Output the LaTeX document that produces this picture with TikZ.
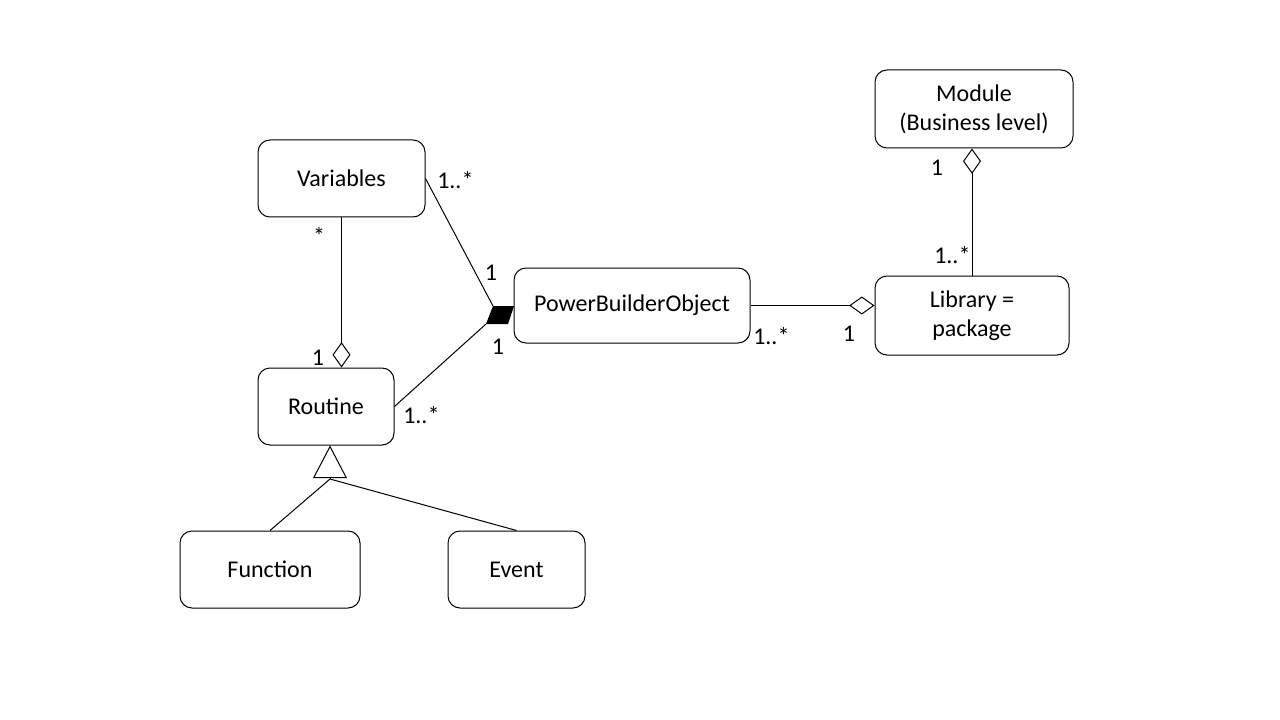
\documentclass[tikz,border=0pt]{standalone}
\usepackage{fontspec}
\setmainfont{Carlito}
\usetikzlibrary{
    positioning,
    arrows.meta
}
\tikzset{
    % class boxes
    block/.style={
        rectangle,
        rounded corners=9pt,
        draw=black,
        line width=0.75pt,
        fill=white,
        align=center,
        inner sep=0pt,
        font=\fontsize{18}{21.6}\selectfont
    },
    boxsize/.style 2 args={minimum width=#1*0.75pt, minimum height=#2*0.75pt},
    % multiplicities
    mult/.style={font=\fontsize{18}{21.6}\selectfont, inner sep=0pt, anchor=base},
    % connectors
    link/.style={draw=black, line width=0.75pt},
    agg/.style={link, {Diamond[open, length=19pt, width=13.5pt]}-},
    inherit/.style={link, -{Triangle[open, length=24.5pt, width=25.5pt]}}
}
\begin{document}
\begin{tikzpicture}[x=0.75pt, y=-0.75pt]
    \useasboundingbox (0,0) rectangle (1280,720);
    % Classes
    \node[block, boxsize={198}{78}] (mod) at (974,109) {Module\\(Business level)};
    \node[block, boxsize={167}{77}] (var) at (341.5,178.5) {Variables};
    \node[block, boxsize={236}{75}] (pbo) at (632,305.5) {PowerBuilderObject};
    \node[block, boxsize={194}{79}] (lib) at (972,315.5) {Library =\\package};
    \node[block, boxsize={136}{77}] (rout) at (326,406.5) {Routine};
    \node[block, boxsize={180}{77}] (fun) at (270,569.5) {Function};
    \node[block, boxsize={137}{77}] (ev) at (516.5,569.5) {Event};

    % Composition
    \coordinate (cA) at (493,306); \coordinate (cB) at (514,306);
    \coordinate (cC) at (508,324); \coordinate (cD) at (486,324);
    \fill (cA) -- (cB) -- (cC) -- (cD) -- cycle;
    \draw[link] (var.east) -- (cA);
    \draw[link] (rout.east) -- (cD);

    % Aggregations
    \draw[agg] (rout.north -| var.south) -- (var.south);
    \draw[agg] (lib.west |- pbo.east) -- (pbo.east);
    \draw[agg] (mod.south -| lib.north) -- (lib.north);

    % Generalization
    \coordinate (gen) at (330,479);
    \draw[link] (fun.north) -- (gen);
    \draw[link] (ev.north) -- (gen);
    \draw[inherit] (gen) -- (rout.south -| gen);

    % Multiplicities
    \node[mult, anchor=base west] (mVarPbo) at (437,189) {1..*};
    \node[mult] (mPboVar) at (491,280) {1};
    \node[mult] (mPboRout) at (498,354) {1};
    \node[mult, anchor=base west] (mRoutPbo) at (403,423) {1..*};
    \node[mult] (mVarRout) at (319,244) {*};
    \node[mult] (mRoutVar) at (318,365) {1};
    \node[mult, anchor=base west] (mPboLib) at (753,344) {1..*};
    \node[mult] (mLibPbo) at (849,341) {1};
    \node[mult] (mModLib) at (937,176) {1};
    \node[mult, anchor=base west] (mLibMod) at (934,263) {1..*};
\end{tikzpicture}
\end{document}
